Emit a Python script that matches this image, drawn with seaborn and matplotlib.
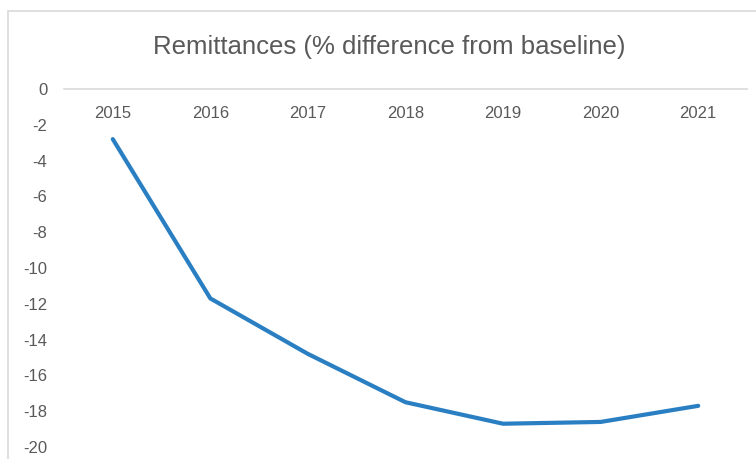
import matplotlib
matplotlib.use("Agg")
import matplotlib.pyplot as plt
from matplotlib.patches import Rectangle
import seaborn as sns
import pandas as pd

## Data
years = ["2015", "2016", "2017", "2018", "2019", "2020", "2021"]
remittances = [-2.8, -11.7, -14.8, -17.5, -18.7, -18.6, -17.7]
y_ticks = [0, -2, -4, -6, -8, -10, -12, -14, -16, -18, -20]

df = pd.DataFrame({"year": years, "value": remittances})

sns.set_theme(style="white")
plt.rcParams["font.family"] = ["Liberation Sans", "DejaVu Sans"]

W, H = 756, 459
fig = plt.figure(figsize=(W / 100, H / 100), dpi=100)

## chart frame (cropped on right and bottom)
fig.patches.append(Rectangle((8 / W, -0.1), 1.2, 1 - 11 / H + 0.1,
                             transform=fig.transFigure, fill=False,
                             edgecolor="#d9d9d9", linewidth=1.2))

ax = fig.add_axes([64 / W, 1 - 447 / H, (747 - 64) / W, (447 - 89) / H])

sns.lineplot(data=df, x="year", y="value", ax=ax, color="#2a7fc2",
             linewidth=3.0, sort=False)

ax.set_xlim(-0.5, len(years) - 0.5)
ax.set_ylim(-20, 0)
ax.set_yticks(y_ticks)
ax.set_yticklabels([str(t) for t in y_ticks])

## category labels sit just under the zero line
ax.xaxis.tick_top()
ax.tick_params(axis="x", length=0, pad=-23, labelsize=12, labelcolor="#595959")
ax.tick_params(axis="y", length=0, pad=12, labelsize=12, labelcolor="#595959")
for lbl in ax.get_yticklabels():
    lbl.set_horizontalalignment("right")

ax.set_xlabel("")
ax.set_ylabel("")
for s in ["left", "right", "bottom"]:
    ax.spines[s].set_visible(False)
ax.spines["top"].set_color("#d9d9d9")
ax.spines["top"].set_linewidth(1.2)
ax.grid(False)

fig.text(389 / W, 1 - 47 / H, "Remittances (% difference from baseline)",
         ha="center", va="center", fontsize=18.5, color="#595959")

fig.savefig("out.png", dpi=100)
